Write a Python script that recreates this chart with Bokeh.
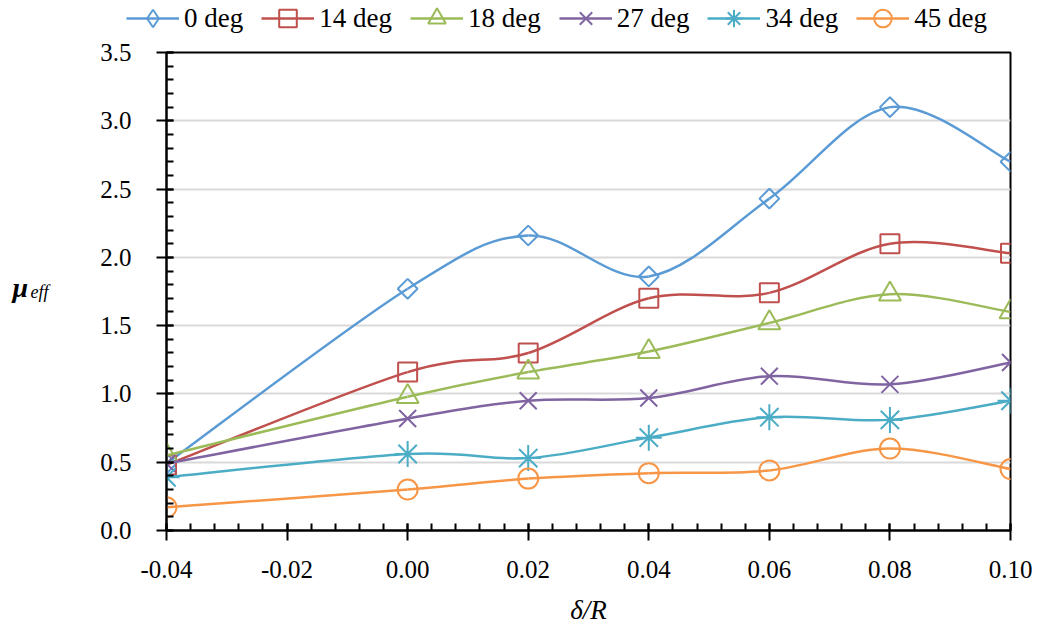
import numpy as np
from bokeh.plotting import figure
from bokeh.layouts import column, row
from bokeh.models import (ColumnDataSource, FixedTicker, NumeralTickFormatter,
                          Legend, LegendItem)
from bokeh.core.properties import value
from bokeh.embed import file_html
from bokeh.resources import INLINE

# Relative offset delta/R
x_vals = [-0.04, 0.00, 0.02, 0.04, 0.06, 0.08, 0.10]

# Effective friction coefficient per inclination angle
mu_0deg = [0.49, 1.77, 2.16, 1.86, 2.43, 3.10, 2.70]
mu_14deg = [0.48, 1.16, 1.30, 1.70, 1.74, 2.10, 2.03]
mu_18deg = [0.55, 0.98, 1.16, 1.31, 1.52, 1.73, 1.60]
mu_27deg = [0.49, 0.82, 0.95, 0.97, 1.13, 1.07, 1.23]
mu_34deg = [0.39, 0.56, 0.53, 0.68, 0.83, 0.81, 0.95]
mu_45deg = [0.17, 0.30, 0.38, 0.42, 0.44, 0.60, 0.45]

series_names = ["0 deg", "14 deg", "18 deg", "27 deg", "34 deg", "45 deg"]
series_values = [mu_0deg, mu_14deg, mu_18deg, mu_27deg, mu_34deg, mu_45deg]

x_ticks = [-0.04, -0.02, 0.00, 0.02, 0.04, 0.06, 0.08, 0.10]
y_ticks = [0.0, 0.5, 1.0, 1.5, 2.0, 2.5, 3.0, 3.5]

colors = ["#5B9BD5", "#C0504D", "#9BBB59", "#8064A2", "#4BACC6", "#F79646"]
# (plot marker, size, angle, legend marker)
markers = [("square", 14, np.pi / 4, "diamond"), ("square", 19, 0.0, "square"),
           ("triangle", 22, 0.0, "triangle"), ("x", 24, 0.0, "x"),
           ("asterisk", 26, 0.0, "asterisk"), ("circle", 20, 0.0, "circle")]

FONT = "Liberation Serif"


def smooth_controls(xs, ys):
    """Cubic Bezier control points for a Catmull-Rom style smoothed line."""
    xs = np.asarray(xs, dtype=float)
    ys = np.asarray(ys, dtype=float)
    n = len(xs)
    px = np.concatenate([[xs[0]], xs, [xs[-1]]])
    py = np.concatenate([[ys[0]], ys, [ys[-1]]])
    i = np.arange(n - 1)
    cx0 = px[i + 1] + (px[i + 2] - px[i]) / 6
    cy0 = py[i + 1] + (py[i + 2] - py[i]) / 6
    cx1 = px[i + 2] - (px[i + 3] - px[i + 1]) / 6
    cy1 = py[i + 2] - (py[i + 3] - py[i + 1]) / 6
    return dict(x0=xs[:-1], y0=ys[:-1], x1=xs[1:], y1=ys[1:],
                cx0=cx0, cy0=cy0, cx1=cx1, cy1=cy1)


def bare_figure(width, height, x_range, y_range):
    f = figure(width=width, height=height, output_backend="svg", toolbar_location=None,
               x_range=x_range, y_range=y_range, x_axis_type=None, y_axis_type=None,
               min_border=0)
    f.outline_line_color = None
    f.grid.grid_line_color = None
    f.background_fill_color = "white"
    f.border_fill_color = "white"
    return f


# ---- main chart ----
p = figure(width=980, height=594, output_backend="svg", toolbar_location=None,
           x_range=(-0.04, 0.10), y_range=(0.0, 3.5),
           min_border_left=106, min_border_right=30,
           min_border_top=12, min_border_bottom=104)
p.background_fill_color = "white"
p.border_fill_color = "white"
p.outline_line_color = "black"
p.outline_line_width = 2

p.xaxis.ticker = FixedTicker(ticks=x_ticks,
                             minor_ticks=list(np.round(np.arange(-0.04, 0.1001, 0.004), 4)))
p.yaxis.ticker = FixedTicker(ticks=y_ticks,
                             minor_ticks=list(np.round(np.arange(0.0, 3.501, 0.1), 2)))
p.xaxis.formatter = NumeralTickFormatter(format="0.00")
p.yaxis.formatter = NumeralTickFormatter(format="0.0")
for ax in (p.xaxis, p.yaxis):
    ax.axis_line_color = "black"
    ax.axis_line_width = 2
    ax.major_tick_line_color = "black"
    ax.major_tick_line_width = 2
    ax.minor_tick_line_color = "black"
    ax.minor_tick_line_width = 2
    ax.major_tick_in = 7
    ax.major_tick_out = 10
    ax.minor_tick_in = 7
    ax.minor_tick_out = 0
    ax.major_label_text_font = FONT
    ax.major_label_text_font_size = "25px"
    ax.major_label_text_color = "black"
p.yaxis.major_label_standoff = 25
p.xaxis.major_label_standoff = 20

p.xaxis.axis_label = "δ/R"
p.xaxis.axis_label_text_font = FONT
p.xaxis.axis_label_text_font_size = "27px"
p.xaxis.axis_label_text_font_style = "italic"
p.xaxis.axis_label_text_color = "black"
p.xaxis.axis_label_standoff = 14

p.xgrid.grid_line_color = None
p.ygrid.grid_line_color = "#D9D9D9"
p.ygrid.grid_line_width = 2

# ---- legend strip ----
top = bare_figure(1040, 40, (0, 1), (0, 1))

items = []
for name, vals, color, (mk, sz, ang, leg_mk) in zip(series_names, series_values, colors, markers):
    src = ColumnDataSource(smooth_controls(x_vals, vals))
    curve_kw = dict(x0="x0", y0="y0", x1="x1", y1="y1", cx0="cx0", cy0="cy0",
                    cx1="cx1", cy1="cy1", line_color=color, line_width=2.5)
    p.bezier(source=src, **curve_kw)
    p.scatter(x=x_vals, y=vals, marker=mk, size=sz, angle=ang,
              line_color=color, line_width=2, fill_color=None)
    # legend entries: same series, only drawn as legend swatches
    leg_curve = top.bezier(source=src, visible=False, **curve_kw)
    leg_pts = top.scatter(x=x_vals, y=vals, marker=leg_mk, size=sz,
                          line_color=color, line_width=2, fill_color=None, visible=False)
    items.append(LegendItem(label=name, renderers=[leg_curve, leg_pts]))

legend = Legend(items=items, orientation="horizontal", location=(126, 0),
                label_text_font=FONT, label_text_font_size="27px",
                label_text_color="black",
                glyph_width=53, glyph_height=44, label_height=44,
                spacing=18, label_standoff=5, padding=0, margin=0,
                border_line_color=None, background_fill_alpha=0,
                click_policy="none")
top.add_layout(legend, "center")

# ---- y-axis title: bold italic mu with italic subscript ----
side = bare_figure(60, 594, (0, 60), (0, 594))
side.text(x=[12], y=[302], text=["μ"], text_font=value(FONT), text_font_size="28px",
          text_font_style="bold italic", text_color="black", text_baseline="alphabetic")
side.text(x=[30], y=[297], text=["eff"], text_font=value(FONT), text_font_size="18px",
          text_font_style="italic", text_color="black", text_baseline="alphabetic")

layout = column(top, row(side, p))
open("out.html", "w").write(file_html(layout, INLINE))
